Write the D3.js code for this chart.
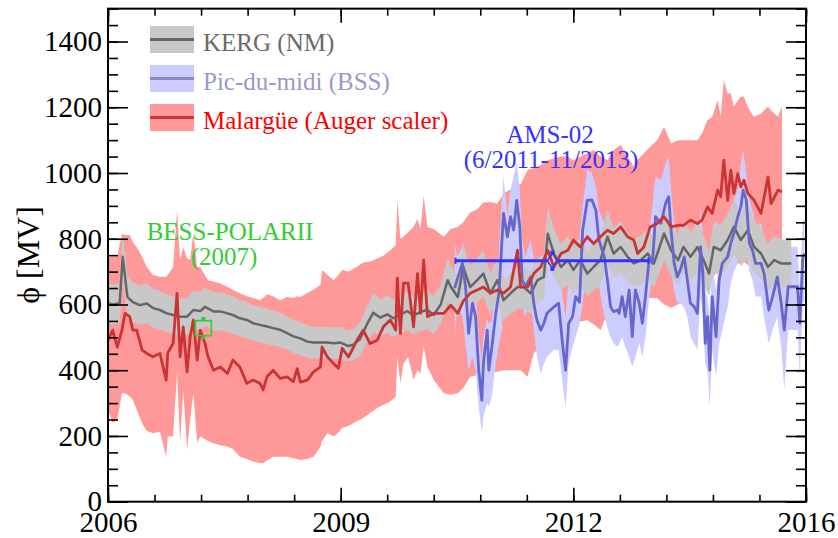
<!DOCTYPE html>
<html><head><meta charset="utf-8">
<script src="https://cdn.jsdelivr.net/npm/d3@7"></script>
<style>
html,body{margin:0;padding:0;background:#fff;}
svg{display:block;}
</style>
</head><body>
<svg id="chart" width="838" height="538"></svg>
<script>
// ---------------- DATA ----------------
const xTickYears  = [2006, 2009, 2012, 2015];
const xTickLabels = ["2006", "2009", "2012", "2016"];
const yTickValues = [0, 200, 400, 600, 800, 1000, 1200, 1400];

const legendLabels = ["KERG (NM)", "Pic-du-midi (BSS)", "Malarg\u00fce (Auger scaler)"];

// KERG (NM): [year, phi, error]
const kergData = [
[2006.00,604,60],[2006.06,600,60],[2006.15,604,60],[2006.19,745,75],[2006.25,623,62],
[2006.32,607,61],[2006.41,598,60],[2006.50,603,60],[2006.58,589,59],[2006.67,583,58],
[2006.76,573,57],[2006.84,568,57],[2006.93,563,56],[2007.02,563,56],[2007.10,583,58],
[2007.19,580,58],[2007.25,593,59],[2007.36,579,58],[2007.45,579,58],[2007.54,573,57],
[2007.61,568,57],[2007.70,558,56],[2007.79,553,55],[2007.87,543,54],[2007.96,538,54],
[2008.05,533,53],[2008.13,528,53],[2008.22,523,52],[2008.31,513,51],[2008.39,503,50],
[2008.48,497,50],[2008.57,487,49],[2008.65,484,48],[2008.74,484,48],[2008.83,484,48],
[2008.91,482,48],[2009.00,484,48],[2009.09,474,47],[2009.16,477,48],[2009.25,495,50],
[2009.34,540,54],[2009.42,575,58],[2009.51,560,56],[2009.60,570,57],[2009.68,558,56],
[2009.77,570,57],[2009.86,580,58],[2009.94,566,57],[2010.03,578,58],[2010.12,583,58],
[2010.20,568,57],[2010.29,600,60],[2010.38,674,67],[2010.42,654,65],[2010.51,623,62],
[2010.58,714,71],[2010.67,653,65],[2010.76,674,67],[2010.84,694,69],[2010.93,634,63],
[2011.02,674,67],[2011.10,613,61],[2011.19,634,63],[2011.28,653,65],[2011.36,653,65],
[2011.45,634,63],[2011.54,674,67],[2011.62,684,68],[2011.67,815,82],[2011.75,755,76],
[2011.84,714,71],[2011.93,735,74],[2012.00,705,71],[2012.09,735,74],[2012.18,694,69],
[2012.26,714,71],[2012.35,735,74],[2012.44,806,81],[2012.52,755,76],[2012.61,775,78],
[2012.70,745,75],[2012.78,725,73],[2012.87,735,74],[2012.96,755,76],[2013.04,725,73],
[2013.17,816,82],[2013.26,765,77],[2013.35,735,74],[2013.42,775,78],[2013.51,745,75],
[2013.60,775,78],[2013.68,735,74],[2013.75,694,69],[2013.81,775,78],[2013.90,765,77],
[2013.99,796,80],[2014.07,836,84],[2014.16,796,80],[2014.25,826,83],[2014.33,775,78],
[2014.42,755,76],[2014.51,714,71],[2014.59,735,74],[2014.68,725,73],[2014.77,725,73],
[2014.81,725,73]
];

// Pic-du-midi (BSS): [year, low, phi, high]
const picData = [
[2010.47,500,650,785],[2010.50,604,674,745],[2010.57,563,725,775],[2010.61,480,654,720],
[2010.65,400,512,654],[2010.70,441,604,684],[2010.74,400,563,640],[2010.78,289,400,503],
[2010.82,208,309,431],[2010.84,260,420,500],[2010.89,300,522,560],[2010.91,290,400,540],
[2010.95,320,471,553],[2011.00,421,573,644],[2011.04,480,634,760],[2011.08,522,796,918],
[2011.10,695,877,989],[2011.15,613,806,867],[2011.19,640,867,950],[2011.23,654,826,989],
[2011.27,775,917,1030],[2011.31,700,837,950],[2011.34,600,674,800],[2011.38,563,654,745],
[2011.45,604,684,796],[2011.49,530,604,740],[2011.53,441,553,654],[2011.58,390,522,694],
[2011.62,420,543,710],[2011.66,441,573,725],[2011.75,462,593,725],[2011.81,462,604,745],
[2011.86,360,482,624],[2011.90,289,400,563],[2011.94,421,543,684],[2011.99,470,563,720],
[2012.03,502,624,745],[2012.08,540,607,800],[2012.12,600,826,900],[2012.18,740,917,1010],
[2012.24,760,918,1000],[2012.29,720,887,960],[2012.33,654,796,887],[2012.40,563,745,847],
[2012.44,530,674,790],[2012.48,502,593,765],[2012.52,482,578,725],[2012.57,471,583,725],
[2012.59,480,573,720],[2012.63,502,624,684],[2012.67,470,563,700],[2012.72,441,644,705],
[2012.76,410,502,660],[2012.80,440,644,680],[2012.85,482,604,694],[2012.89,441,543,694],
[2012.93,500,624,720],[2012.98,624,745,826],[2013.02,680,725,900],[2013.06,725,867,989],
[2013.13,765,847,979],[2013.19,800,908,1030],[2013.23,826,928,1050],[2013.26,705,826,948],
[2013.30,640,725,850],[2013.34,604,684,806],[2013.38,604,705,836],[2013.43,590,745,820],
[2013.47,563,674,796],[2013.51,502,604,725],[2013.56,480,593,715],[2013.60,462,573,705],
[2013.64,624,776,897],[2013.67,560,694,806],[2013.70,420,482,650],[2013.73,400,563,620],
[2013.76,289,400,563],[2013.79,462,624,725],[2013.84,380,502,644],[2013.88,480,674,720],
[2013.92,522,725,796],[2013.99,593,745,836],[2014.03,664,786,887],[2014.07,700,816,920],
[2014.12,725,867,948],[2014.16,796,897,1030],[2014.19,826,948,1070],[2014.23,765,918,999],
[2014.27,700,786,920],[2014.31,674,765,887],[2014.35,624,725,836],[2014.42,624,725,847],
[2014.46,560,694,800],[2014.52,482,583,745],[2014.57,522,624,765],[2014.63,563,684,796],
[2014.68,471,604,765],[2014.72,339,522,684],[2014.77,522,654,775],[2014.83,522,654,775],
[2014.89,522,654,775],[2014.92,380,543,654],[2014.96,604,745,857],[2014.98,610,755,860]
];

// Malargüe (Auger scaler): [year, low, phi, high]
const augerData = [
[2006.00,279,491,745],[2006.06,240,522,745],[2006.12,250,470,745],[2006.18,330,522,816],
[2006.22,330,573,811],[2006.28,320,563,811],[2006.32,310,522,790],[2006.37,280,522,775],
[2006.44,239,461,745],[2006.50,215,451,714],[2006.58,208,441,690],[2006.67,213,451,684],
[2006.75,137,370,684],[2006.77,198,452,690],[2006.84,200,482,714],[2006.89,393,634,887],
[2006.93,180,441,735],[2006.97,340,532,775],[2007.02,157,395,740],[2007.06,250,502,735],
[2007.10,330,553,816],[2007.15,180,431,714],[2007.19,198,522,714],[2007.25,190,482,690],
[2007.29,185,441,674],[2007.36,178,400,670],[2007.45,172,410,664],[2007.54,167,390,654],
[2007.61,160,431,645],[2007.70,137,410,634],[2007.79,130,360,625],[2007.87,122,370,620],
[2007.96,118,360,613],[2008.00,117,340,620],[2008.05,125,380,630],[2008.13,137,400,625],
[2008.22,137,375,613],[2008.31,137,380,623],[2008.39,132,365,620],[2008.44,130,405,625],
[2008.48,127,364,623],[2008.57,130,370,635],[2008.65,137,395,645],[2008.74,167,410,660],
[2008.76,185,470,705],[2008.83,208,440,690],[2008.91,198,420,674],[2008.97,210,406,690],
[2009.02,225,467,705],[2009.10,230,440,700],[2009.21,245,491,715],[2009.29,255,522,728],
[2009.38,270,481,730],[2009.47,285,491,740],[2009.55,295,532,748],[2009.64,305,553,765],
[2009.71,320,522,780],[2009.73,440,680,917],[2009.77,360,512,800],[2009.81,420,665,806],
[2009.87,440,665,820],[2009.94,370,532,836],[2009.99,400,694,860],[2010.03,390,573,830],
[2010.07,471,735,930],[2010.12,410,563,836],[2010.20,370,573,830],[2010.33,330,573,806],
[2010.42,325,598,830],[2010.51,330,573,836],[2010.58,345,610,850],[2010.67,380,634,880],
[2010.76,385,644,890],[2010.84,390,653,910],[2010.93,392,634,912],[2011.02,395,644,907],
[2011.10,400,634,938],[2011.19,400,653,950],[2011.28,400,765,965],[2011.32,400,653,965],
[2011.41,380,653,1009],[2011.49,452,694,1015],[2011.58,475,714,1025],[2011.67,502,765,1039],
[2011.75,510,714,1045],[2011.84,522,755,1050],[2011.93,535,765,1050],[2012.00,542,796,1039],
[2012.09,548,775,1050],[2012.18,552,806,1060],[2012.26,540,785,1070],[2012.35,522,806,1050],
[2012.44,573,826,1039],[2012.52,590,816,1070],[2012.61,603,836,1085],[2012.70,603,806,1050],
[2012.78,603,796,1019],[2012.83,610,755,1040],[2012.91,615,775,1060],[2012.99,620,836,1080],
[2013.08,620,846,1100],[2013.17,600,867,1141],[2013.26,590,836,1090],[2013.35,600,841,1100],
[2013.42,610,841,1100],[2013.51,625,857,1100],[2013.60,640,846,1100],[2013.66,650,857,1121],
[2013.73,665,897,1161],[2013.79,680,877,1170],[2013.86,700,948,1222],[2013.90,700,928,1171],
[2013.94,720,1039,1283],[2013.99,710,917,1242],[2014.03,720,1009,1242],[2014.07,715,938,1202],
[2014.12,725,998,1220],[2014.16,725,958,1232],[2014.20,730,978,1232],[2014.25,720,938,1200],
[2014.33,715,917,1171],[2014.42,700,877,1181],[2014.51,730,988,1202],[2014.55,715,907,1190],
[2014.64,715,948,1171],[2014.69,720,943,1202]
];

// BESS-POLARII point: [year, phi, error]
const bessPoint = [2007.23, 528, 29];
const bessLabel = ["BESS-POLARII", "(2007)"];
// AMS-02 point: [yearStart, yearCenter, yearEnd, phi, error]
const amsPoint = [2010.48, 2011.73, 2012.97, 733, 26];
const amsLabel = ["AMS-02", "(6/2011-11/2013)"];

// ---------------- CHART ----------------
const svg = d3.select("#chart");
const L = 108, R = 806, T = 8.65, B = 501.7;
const x = d3.scaleLinear().domain([2006, 2015]).range([L, R]);
const y = d3.scaleLinear().domain([0, 1500]).range([B, T]);
const FONT = "'Liberation Serif', 'Times New Roman', Times, 'DejaVu Serif', serif";

svg.append("defs").append("clipPath").attr("id", "clip")
  .append("rect").attr("x", L).attr("y", T).attr("width", R - L).attr("height", B - T);
const g = svg.append("g").attr("clip-path", "url(#clip)");

const bandArea = d3.area().x(d => x(d[0])).y0(d => y(d[1])).y1(d => y(d[3]));
const kergArea = d3.area().x(d => x(d[0])).y0(d => y(d[1] - d[2])).y1(d => y(d[1] + d[2]));

g.append("path").datum(augerData).attr("d", bandArea).attr("fill", "#ff9999");
g.append("path").datum(picData).attr("d", bandArea).attr("fill", "#ccccff");
g.append("path").datum(kergData).attr("d", kergArea).attr("fill", "#c8c8c8");

const line3 = d3.line().x(d => x(d[0])).y(d => y(d[2]));
const line2 = d3.line().x(d => x(d[0])).y(d => y(d[1]));
g.append("path").datum(kergData).attr("d", line2).attr("fill", "none")
  .attr("stroke", "#666666").attr("stroke-width", 2.5).attr("stroke-linejoin", "round");
g.append("path").datum(picData).attr("d", line3).attr("fill", "none")
  .attr("stroke", "#6666cc").attr("stroke-width", 2.8).attr("stroke-linejoin", "round");
g.append("path").datum(augerData).attr("d", line3).attr("fill", "none")
  .attr("stroke", "#cc3333").attr("stroke-width", 2.8).attr("stroke-linejoin", "round");

// BESS marker
{
  const cx = x(bessPoint[0]), cy = y(bessPoint[1]);
  const yt = y(bessPoint[1] + bessPoint[2]), yb = y(bessPoint[1] - bessPoint[2]);
  const gm = svg.append("g");
  gm.append("rect").attr("x", cx - 8).attr("y", cy - 7.5).attr("width", 16).attr("height", 15)
    .attr("fill", "none").attr("stroke", "#33cc33").attr("stroke-width", 1.6);
  gm.append("rect").attr("x", cx - 2).attr("y", yt - 1.5).attr("width", 4).attr("height", 3).attr("fill", "#33cc33");
  gm.append("rect").attr("x", cx - 2).attr("y", yb - 1.5).attr("width", 4).attr("height", 3).attr("fill", "#33cc33");
  gm.append("line").attr("x1", cx).attr("x2", cx).attr("y1", yt).attr("y2", cy - 7.5).attr("stroke", "#33cc33").attr("stroke-width", 1.5);
  gm.append("line").attr("x1", cx).attr("x2", cx).attr("y1", yb).attr("y2", cy + 7.5).attr("stroke", "#33cc33").attr("stroke-width", 1.5);
}

// AMS marker
{
  const x0 = x(amsPoint[0]), xc = x(amsPoint[1]), x1 = x(amsPoint[2]), cy = y(amsPoint[3]);
  const yt = y(amsPoint[3] + amsPoint[4]), yb = y(amsPoint[3] - amsPoint[4]);
  const col = "#3333ff";
  const gm = svg.append("g");
  gm.append("line").attr("x1", x0).attr("x2", xc - 5).attr("y1", cy).attr("y2", cy).attr("stroke", col).attr("stroke-width", 3);
  gm.append("line").attr("x1", xc + 5).attr("x2", x1).attr("y1", cy).attr("y2", cy).attr("stroke", col).attr("stroke-width", 3);
  gm.append("line").attr("x1", x0).attr("x2", x0).attr("y1", cy - 3).attr("y2", cy + 3).attr("stroke", col).attr("stroke-width", 2);
  gm.append("line").attr("x1", x1).attr("x2", x1).attr("y1", cy - 3).attr("y2", cy + 3).attr("stroke", col).attr("stroke-width", 2);
  gm.append("path").attr("d", `M${xc},${yt + 1}L${xc + 5},${cy}L${xc},${yb - 1}L${xc - 5},${cy}Z`)
    .attr("fill", "none").attr("stroke", col).attr("stroke-width", 1.5);
  gm.append("rect").attr("x", xc - 2).attr("y", yt - 1.5).attr("width", 4).attr("height", 3.5).attr("fill", col);
  gm.append("rect").attr("x", xc - 2).attr("y", yb - 2).attr("width", 4).attr("height", 3.5).attr("fill", col);
}

function txt(xp, yp, s, size, col, anchor) {
  return svg.append("text").attr("x", xp).attr("y", yp).attr("text-anchor", anchor || "start")
    .style("font-family", FONT).style("font-size", size + "px").attr("fill", col).text(s);
}

// Annotations
txt(230, 240, bessLabel[0], 25, "#33cc33", "middle");
txt(224, 265, bessLabel[1], 25, "#33cc33", "middle");
txt(550, 143, amsLabel[0], 25, "#3333ff", "middle");
txt(551, 168, amsLabel[1], 25, "#3333ff", "middle");

// Legend
const legFill = ["#c8c8c8", "#ccccff", "#ff9999"];
const legLine = ["#666666", "#8888c4", "#cc3333"];
const legText = ["#6a6a6a", "#9999cc", "#ff0000"];
const legY = [26, 65, 104];
legendLabels.forEach((lab, i) => {
  svg.append("rect").attr("x", 150).attr("y", legY[i]).attr("width", 44).attr("height", 27).attr("fill", legFill[i]);
  svg.append("line").attr("x1", 150).attr("x2", 194).attr("y1", legY[i] + 13.5).attr("y2", legY[i] + 13.5)
    .attr("stroke", legLine[i]).attr("stroke-width", 3);
  txt(203, legY[i] + 24.5, lab, 25, legText[i]);
});

// Axes
function styleAxis(sel, labels) {
  sel.select(".domain").remove();
  sel.selectAll(".tick line").attr("stroke", "#000").attr("stroke-width", 1.6);
  if (labels) sel.selectAll(".tick text").style("font-size", "29px").style("font-family", FONT).attr("fill", "#000");
  else sel.selectAll(".tick text").remove();
}
const yMinor = d3.range(0, 1501, 50);
const xMinor = d3.range(0, 16).map(i => 2006 + i * 0.6);

svg.append("g").attr("transform", `translate(${L},0)`)
  .call(d3.axisLeft(y).tickValues(yMinor).tickSize(-10).tickFormat(""))
  .call(s => styleAxis(s, false));
svg.append("g").attr("transform", `translate(${L},0)`)
  .call(d3.axisLeft(y).tickValues(yTickValues).tickSize(-20).tickPadding(6).tickFormat(d3.format("d")))
  .call(s => styleAxis(s, true));
svg.append("g").attr("transform", `translate(${R},0)`)
  .call(d3.axisRight(y).tickValues(yMinor).tickSize(-10).tickFormat(""))
  .call(s => styleAxis(s, false));
svg.append("g").attr("transform", `translate(${R},0)`)
  .call(d3.axisRight(y).tickValues(yTickValues).tickSize(-20).tickFormat(""))
  .call(s => styleAxis(s, false));

svg.append("g").attr("transform", `translate(0,${B})`)
  .call(d3.axisBottom(x).tickValues(xMinor).tickSize(-7).tickFormat(""))
  .call(s => styleAxis(s, false));
svg.append("g").attr("transform", `translate(0,${B})`)
  .call(d3.axisBottom(x).tickValues(xTickYears).tickSize(-14).tickPadding(10)
    .tickFormat((d, i) => xTickLabels[i]))
  .call(s => styleAxis(s, true));
svg.append("g").attr("transform", `translate(0,${T})`)
  .call(d3.axisTop(x).tickValues(xMinor).tickSize(-7).tickFormat(""))
  .call(s => styleAxis(s, false));
svg.append("g").attr("transform", `translate(0,${T})`)
  .call(d3.axisTop(x).tickValues(xTickYears).tickSize(-14).tickFormat(""))
  .call(s => styleAxis(s, false));

svg.append("rect").attr("x", L).attr("y", T).attr("width", R - L).attr("height", B - T)
  .attr("fill", "none").attr("stroke", "#000").attr("stroke-width", 2);

// Y title
svg.append("text").attr("transform", "translate(39,255) rotate(-90)")
  .attr("text-anchor", "middle").style("font-size", "32px").style("font-family", FONT)
  .attr("fill", "#000").text("\u03d5 [MV]");
</script>
</body></html>
